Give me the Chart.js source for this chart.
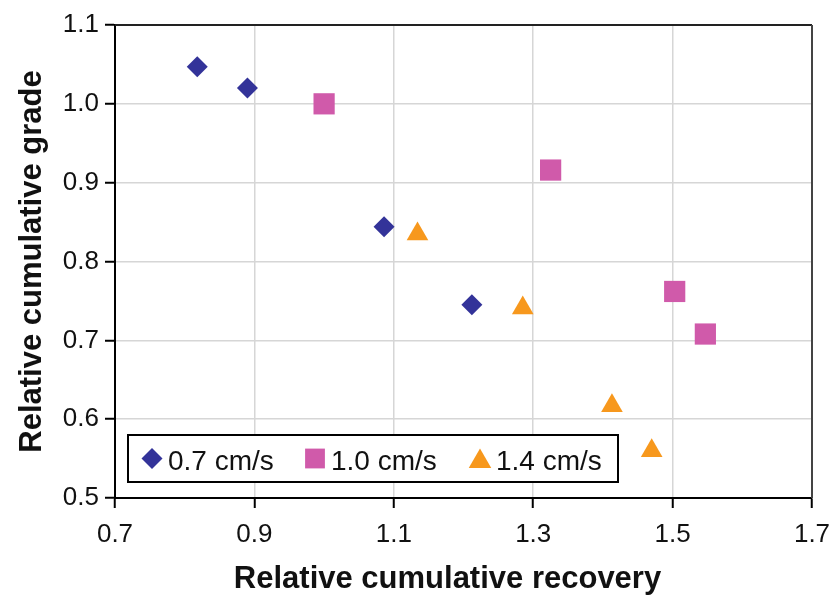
<!DOCTYPE html>
<html>
<head>
<meta charset="utf-8">
<script src="https://cdn.jsdelivr.net/npm/chart.js@4/dist/chart.umd.min.js"></script>
<style>
  html, body { margin: 0; padding: 0; background: #fff; }
  #wrap { width: 837px; height: 599px; }
</style>
</head>
<body>
<div id="wrap"><canvas id="c" width="837" height="599"></canvas></div>
<script>
// Relative cumulative recovery (x) vs relative cumulative grade (y) per superficial gas velocity
const seriesNames = ['0.7 cm/s', '1.0 cm/s', '1.4 cm/s'];

const recovery07 = [0.818, 0.890, 1.086, 1.212];
const grade07    = [1.047, 1.020, 0.844, 0.745];

const recovery10 = [1.000, 1.325, 1.503, 1.547];
const grade10    = [1.000, 0.916, 0.762, 0.708];

const recovery14 = [1.134, 1.285, 1.413, 1.470];
const grade14    = [0.835, 0.741, 0.617, 0.560];

const xTickValues = [0.7, 0.9, 1.1, 1.3, 1.5, 1.7];
const yTickValues = [0.5, 0.6, 0.7, 0.8, 0.9, 1.0, 1.1];

const xTitle = 'Relative cumulative recovery';
const yTitle = 'Relative cumulative grade';

const FONT = '"Liberation Sans", Arial, sans-serif';

const toPoints = (xs, ys) => xs.map((x, i) => ({ x: x, y: ys[i] }));

const styles = [
  { color: '#333399', pointStyle: 'rectRot', radius: 10.5 },
  { color: '#D05AAA', pointStyle: 'rect', radius: 15 },
  { color: '#F7981D', pointStyle: 'triangle', radius: 12.5 }
];

const datasets = [
  toPoints(recovery07, grade07),
  toPoints(recovery10, grade10),
  toPoints(recovery14, grade14)
].map((pts, i) => ({
  label: seriesNames[i],
  data: pts,
  pointStyle: styles[i].pointStyle,
  pointRadius: styles[i].radius,
  pointHoverRadius: styles[i].radius,
  backgroundColor: styles[i].color,
  borderColor: styles[i].color,
  borderWidth: 0,
  showLine: false
}));

// Outer frame of the plot area (top and right edges)
const frame = {
  id: 'frame',
  afterDatasetsDraw(chart) {
    const { ctx, chartArea: a } = chart;
    ctx.save();
    ctx.lineWidth = 2;
    ctx.strokeStyle = '#222';
    ctx.beginPath();
    ctx.moveTo(a.left, a.top);
    ctx.lineTo(a.right, a.top);
    ctx.stroke();
    ctx.strokeStyle = '#444';
    ctx.beginPath();
    ctx.moveTo(a.right, a.top);
    ctx.lineTo(a.right, a.bottom);
    ctx.stroke();
    ctx.restore();
  }
};

// Horizontal axis title, set a little left of the plot centre
const bottomTitle = {
  id: 'bottomTitle',
  afterDraw(chart) {
    const { ctx, chartArea: a } = chart;
    ctx.save();
    ctx.font = 'bold 31px ' + FONT;
    ctx.fillStyle = '#111';
    ctx.textAlign = 'center';
    ctx.textBaseline = 'alphabetic';
    ctx.fillText(xTitle, (a.left + a.right) / 2 - 16, a.bottom + 90);
    ctx.restore();
  }
};

// Boxed legend inside the lower-left corner of the plot area
const innerLegend = {
  id: 'innerLegend',
  afterDraw(chart) {
    const { ctx, chartArea: a } = chart;
    const boxLeft = a.left + 13;
    const boxTop = a.bottom - 63;
    const boxW = 490;
    const boxH = 47;
    const midY = boxTop + boxH / 2;
    ctx.save();
    ctx.fillStyle = '#fff';
    ctx.fillRect(boxLeft, boxTop, boxW, boxH);
    ctx.lineWidth = 2;
    ctx.strokeStyle = '#000';
    ctx.strokeRect(boxLeft, boxTop, boxW, boxH);
    ctx.font = '28px ' + FONT;
    ctx.textBaseline = 'alphabetic';
    ctx.textAlign = 'left';
    const markerX = [boxLeft + 24, boxLeft + 187, boxLeft + 352];
    chart.data.datasets.forEach((ds, i) => {
      const r = ds.pointStyle === 'rectRot' ? 10.5 : (ds.pointStyle === 'rect' ? 14 : 13);
      const my = ds.pointStyle === 'triangle' ? midY + 3 : midY;
      ctx.fillStyle = ds.backgroundColor;
      ctx.strokeStyle = ds.borderColor;
      Chart.helpers.drawPoint(ctx, { pointStyle: ds.pointStyle, radius: r, borderWidth: 0, rotation: 0 }, markerX[i], my);
      ctx.fillStyle = '#111';
      ctx.fillText(ds.label, markerX[i] + 16, midY + 11);
    });
    ctx.restore();
  }
};

new Chart(document.getElementById('c'), {
  type: 'scatter',
  data: { datasets: datasets },
  options: {
    responsive: false,
    animation: false,
    devicePixelRatio: 1,
    layout: { padding: { top: 25, right: 25, left: 0, bottom: 0 } },
    plugins: {
      legend: { display: false },
      tooltip: { enabled: false }
    },
    scales: {
      x: {
        type: 'linear',
        min: 0.7,
        max: 1.7,
        afterBuildTicks: (s) => { s.ticks = xTickValues.map(v => ({ value: v })); },
        afterFit: (s) => { s.height = 101; s.paddingLeft = 0; s.paddingRight = 0; },
        ticks: {
          color: '#111',
          font: { size: 26, family: FONT },
          padding: 11,
          maxRotation: 0,
          callback: (v) => Number(v).toFixed(1)
        },
        grid: { color: '#d6d6d6', lineWidth: 1.5, tickColor: '#000', tickLength: 10, tickWidth: 2 },
        border: { color: '#000', width: 2 }
      },
      y: {
        type: 'linear',
        min: 0.5,
        max: 1.1,
        afterBuildTicks: (s) => { s.ticks = yTickValues.map(v => ({ value: v })); },
        afterFit: (s) => { s.width = 115; s.paddingTop = 0; s.paddingBottom = 0; },
        ticks: {
          color: '#111',
          font: { size: 26, family: FONT },
          padding: 6,
          callback: (v) => Number(v).toFixed(1)
        },
        grid: { color: '#d6d6d6', lineWidth: 1.5, tickColor: '#000', tickLength: 10, tickWidth: 2 },
        border: { color: '#000', width: 2 },
        title: {
          display: true,
          text: yTitle,
          color: '#111',
          font: { size: 31, weight: 'bold', family: FONT },
          padding: { top: 14, bottom: 0 }
        }
      }
    }
  },
  plugins: [frame, bottomTitle, innerLegend]
});
</script>
</body>
</html>
